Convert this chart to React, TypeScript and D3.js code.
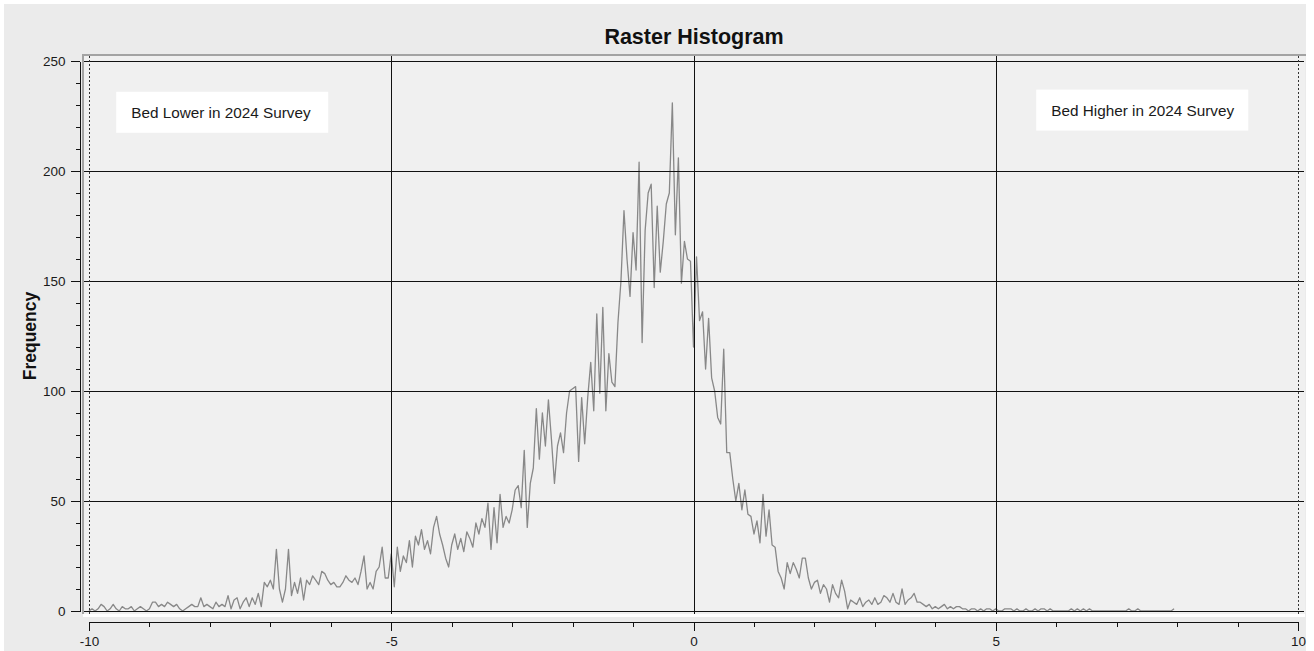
import { useEffect, useRef } from "react";
import * as d3 from "d3";

// histogram bins: 0.05 wide, starting at -10 (one array per unit of x)
const binStart = -10;
const binWidth = 0.05;

const freqM10 = [0, 1, 0, 1, 3, 2, 0, 1, 3, 1, 0, 2, 1, 1, 2, 0, 1, 2, 1, 0];
const freqM9 = [1, 4, 4, 2, 3, 2, 4, 3, 2, 3, 1, 0, 1, 2, 3, 2, 2, 6, 2, 3];
const freqM8 = [2, 1, 4, 2, 3, 2, 7, 1, 5, 6, 1, 4, 6, 2, 6, 3, 8, 2, 13, 11];
const freqM7 = [14, 10, 28, 10, 4, 10, 28, 7, 13, 8, 15, 5, 14, 12, 16, 14, 12, 18, 17, 14];
const freqM6 = [12, 13, 11, 11, 13, 16, 14, 13, 15, 12, 18, 25, 10, 13, 10, 18, 20, 29, 15, 15];
const freqM5 = [26, 11, 29, 18, 25, 22, 32, 20, 34, 30, 37, 28, 32, 26, 38, 43, 35, 30, 24, 20];
const freqM4 = [30, 35, 28, 33, 27, 36, 33, 29, 40, 35, 42, 38, 49, 28, 47, 31, 53, 38, 43, 40];
const freqM3 = [46, 55, 57, 47, 73, 38, 58, 65, 92, 69, 90, 75, 96, 78, 58, 75, 81, 72, 90, 100];
const freqM2 = [101, 102, 68, 97, 76, 97, 113, 91, 135, 99, 138, 91, 117, 104, 102, 131, 150, 182, 160, 143];
const freqM1 = [172, 155, 204, 122, 173, 190, 194, 147, 184, 154, 168, 185, 190, 231, 171, 206, 149, 168, 160, 159];
const freqP0 = [120, 161, 132, 136, 110, 133, 106, 100, 88, 85, 119, 72, 72, 60, 50, 58, 46, 55, 44, 43];
const freqP1 = [35, 41, 31, 53, 34, 46, 30, 29, 18, 15, 10, 22, 17, 22, 19, 15, 24, 24, 15, 10];
const freqP2 = [13, 14, 8, 12, 10, 4, 12, 8, 6, 14, 9, 1, 5, 4, 3, 6, 2, 4, 5, 3];
const freqP3 = [6, 3, 4, 7, 6, 4, 8, 4, 3, 10, 3, 5, 6, 8, 4, 4, 3, 2, 3, 1];
const freqP4 = [2, 1, 2, 3, 1, 2, 1, 2, 2, 1, 1, 0, 1, 1, 0, 1, 0, 1, 1, 0];
const freqP5 = [1, 0, 0, 1, 1, 1, 0, 1, 0, 0, 1, 0, 0, 1, 0, 1, 1, 0, 1, 0];
const freqP6 = [0, 0, 0, 0, 0, 1, 0, 1, 0, 1, 0, 1, 0, 0, 0, 0, 0, 0, 0, 0];
const freqP7 = [0, 0, 0, 0, 1, 0, 0, 1, 0, 0, 0, 0, 0, 0, 0, 0, 0, 0, 0, 1];

const frequency = [
  ...freqM10, ...freqM9, ...freqM8, ...freqM7, ...freqM6, ...freqM5,
  ...freqM4, ...freqM3, ...freqM2, ...freqM1, ...freqP0, ...freqP1,
  ...freqP2, ...freqP3, ...freqP4, ...freqP5, ...freqP6, ...freqP7,
];

const xMajorTicks = [-10, -5, 0, 5, 10];
const yMajorTicks = [0, 50, 100, 150, 200, 250];

const notes = [
  { text: "Bed Lower in 2024 Survey", x: -9.55, y: 236 },
  { text: "Bed Higher in 2024 Survey", x: 5.67, y: 237 },
];

const FONT = "'Liberation Sans', Arial, sans-serif";

export default function App() {
  const ref = useRef<SVGSVGElement | null>(null);

  useEffect(() => {
    if (!ref.current) return;

    const width = 1314;
    const height = 651;
    const plot = { left: 83, right: 1305, top: 55, bottom: 614 };

    const svg = d3.select(ref.current).attr("viewBox", `0 0 ${width} ${height}`);
    svg.selectAll("*").remove();

    const x = d3.scaleLinear().domain([-10, 10]).range([89, 1298]);
    const y = d3.scaleLinear().domain([0, 250]).range([611, 61]);

    /* ---------------- BACKGROUND ---------------- */

    svg.append("rect")
      .attr("x", 0).attr("y", 0)
      .attr("width", width).attr("height", height)
      .attr("fill", "#ffffff");

    svg.append("rect")
      .attr("x", 4).attr("y", 4)
      .attr("width", 1302).attr("height", height - 4)
      .attr("fill", "#ebebeb");

    svg.append("rect")
      .attr("x", plot.left).attr("y", plot.top)
      .attr("width", plot.right - plot.left)
      .attr("height", plot.bottom - plot.top)
      .attr("fill", "#f0f0f0");

    svg.append("rect")
      .attr("x", plot.left).attr("y", plot.bottom)
      .attr("width", plot.right - plot.left)
      .attr("height", 3)
      .attr("fill", "#ffffff");

    /* ---------------- DATA LINE ---------------- */

    const line = d3.line<number>()
      .x((_, i) => x(binStart + i * binWidth))
      .y(d => y(d));

    svg.append("path")
      .datum(frequency)
      .attr("fill", "none")
      .attr("stroke", "#888888")
      .attr("stroke-width", 1.3)
      .attr("stroke-linejoin", "round")
      .attr("d", line);

    /* ---------------- GRID ---------------- */

    const grid = svg.append("g")
      .attr("stroke", "#111")
      .attr("stroke-width", 1)
      .attr("shape-rendering", "crispEdges");

    grid.selectAll(".hgrid")
      .data(yMajorTicks)
      .enter()
      .append("line")
      .attr("x1", plot.left)
      .attr("x2", plot.right - 1)
      .attr("y1", d => Math.round(y(d)) + 0.5)
      .attr("y2", d => Math.round(y(d)) + 0.5);

    grid.selectAll(".vgrid")
      .data([-5, 0, 5])
      .enter()
      .append("line")
      .attr("x1", d => Math.round(x(d)) + 0.5)
      .attr("x2", d => Math.round(x(d)) + 0.5)
      .attr("y1", plot.top + 1)
      .attr("y2", plot.bottom);

    svg.selectAll(".edge")
      .data([-10, 10])
      .enter()
      .append("line")
      .attr("x1", d => Math.round(x(d)) + 0.5)
      .attr("x2", d => Math.round(x(d)) + 0.5)
      .attr("y1", plot.top + 1)
      .attr("y2", plot.bottom)
      .attr("stroke", "#333")
      .attr("stroke-width", 1)
      .attr("stroke-dasharray", "2,2");

    // plot frame (top and left)
    svg.append("path")
      .attr("d", `M${plot.left},${plot.bottom}V${plot.top}H${plot.right + 1}`)
      .attr("fill", "none")
      .attr("stroke", "#a3a3a3")
      .attr("stroke-width", 2);

    /* ---------------- AXES ---------------- */

    const yMinor = svg.append("g")
      .attr("transform", "translate(79.5,0)")
      .call(d3.axisLeft(y).tickValues(d3.range(0, 251, 10)).tickSize(4).tickSizeOuter(0).tickFormat(() => ""));
    yMinor.select(".domain").remove();

    const yAxis = svg.append("g")
      .attr("transform", "translate(79.5,0)")
      .call(d3.axisLeft(y).tickValues(yMajorTicks).tickSize(9).tickSizeOuter(0).tickPadding(5).tickFormat(d => String(d)));

    const xMinor = svg.append("g")
      .attr("transform", "translate(0,621.5)")
      .call(d3.axisBottom(x).tickValues(d3.range(-10, 11, 1)).tickSize(5).tickSizeOuter(0).tickFormat(() => ""));
    xMinor.select(".domain").remove();

    const xAxis = svg.append("g")
      .attr("transform", "translate(0,621.5)")
      .call(d3.axisBottom(x).tickValues(xMajorTicks).tickSize(9).tickSizeOuter(0).tickPadding(6).tickFormat(d => String(d)));

    [yMinor, yAxis, xMinor, xAxis].forEach(g => {
      g.selectAll("line").attr("stroke", "#111").attr("stroke-width", 1).attr("shape-rendering", "crispEdges");
      g.selectAll(".domain").attr("stroke", "#111").attr("stroke-width", 1).attr("shape-rendering", "crispEdges");
      g.selectAll("text")
        .attr("fill", "#1a1a1a")
        .attr("font-family", FONT)
        .attr("font-size", 13.5);
    });

    /* ---------------- TEXT ---------------- */

    svg.append("text")
      .attr("x", 694)
      .attr("y", 44)
      .attr("text-anchor", "middle")
      .attr("font-family", FONT)
      .attr("font-weight", "bold")
      .attr("font-size", 21.5)
      .attr("fill", "#111")
      .text("Raster Histogram");

    svg.append("text")
      .attr("transform", "translate(35.5,336) rotate(-90)")
      .attr("text-anchor", "middle")
      .attr("font-family", FONT)
      .attr("font-weight", "bold")
      .attr("font-size", 17.5)
      .attr("fill", "#111")
      .text("Frequency");

    /* ---------------- ANNOTATIONS ---------------- */

    const note = svg.selectAll(".note")
      .data(notes)
      .enter()
      .append("g")
      .attr("transform", d => `translate(${x(d.x)},${y(d.y)})`);

    note.append("rect")
      .attr("width", 212)
      .attr("height", 41)
      .attr("fill", "#ffffff");

    note.append("text")
      .attr("x", 15)
      .attr("y", 26)
      .attr("font-family", FONT)
      .attr("font-size", 15.3)
      .attr("fill", "#1a1a1a")
      .text(d => d.text);
  }, []);

  return (
    <svg
      ref={ref}
      width={1314}
      height={651}
      style={{ position: "absolute", left: 0, top: 0, display: "block" }}
    />
  );
}
